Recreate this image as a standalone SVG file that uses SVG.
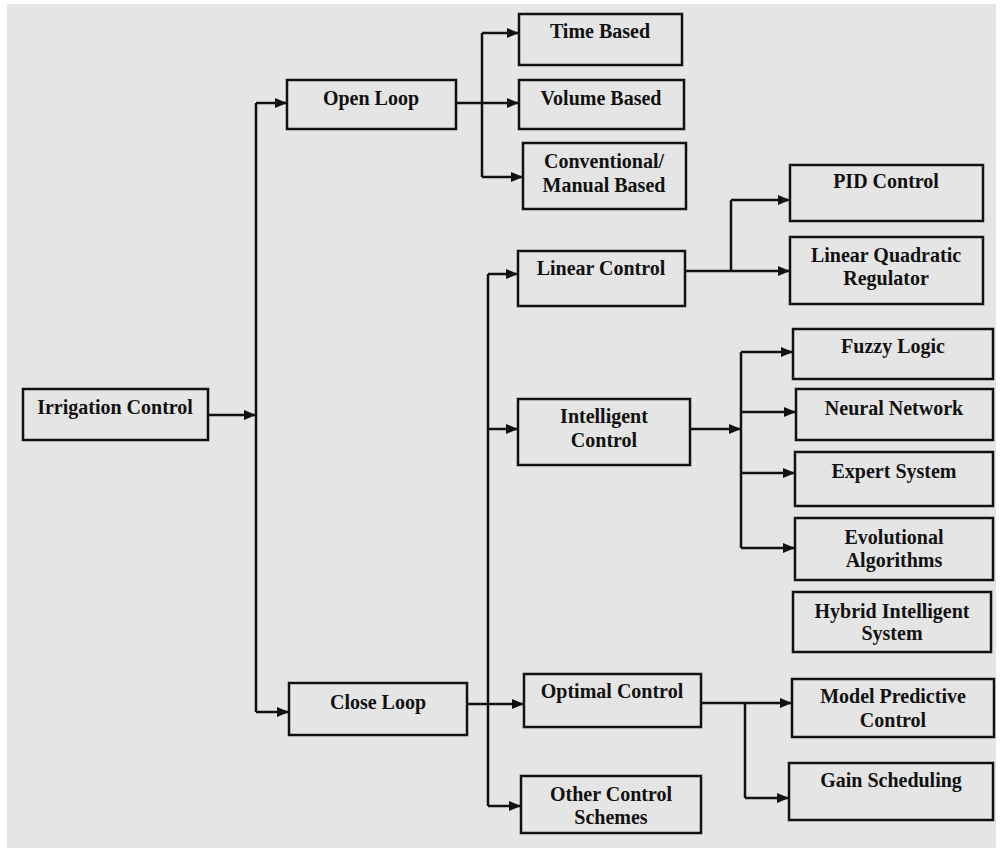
<svg xmlns="http://www.w3.org/2000/svg" width="1000" height="852" viewBox="0 0 1000 852">
  <defs>
    <marker id="arrow" markerUnits="userSpaceOnUse" markerWidth="14" markerHeight="14" viewBox="0 0 14 14" refX="12" refY="7" orient="auto">
      <path d="M0,2 L12,7 L0,12 Z" fill="#111"/>
    </marker>
  </defs>
  <style>
    .box { fill: #e5e5e5; stroke: #111; stroke-width: 2.5; }
    .lbl { font-family: "Liberation Serif", "Times New Roman", serif; font-weight: bold; font-size: 20px; fill: #111; text-anchor: middle; }
    .wire { fill: none; stroke: #111; stroke-width: 2.5; }
    .arr { fill: none; stroke: #111; stroke-width: 2.5; marker-end: url(#arrow); }
  </style>

  <rect x="0" y="0" width="1000" height="852" fill="#ffffff"/>
  <rect x="7" y="4" width="989" height="844" fill="#e5e5e5"/>

  <!-- connectors -->
  <g id="connectors">
    <!-- root to both loop types -->
    <path class="arr" d="M208,415 H256"/>
    <path class="wire" d="M256,103 V712"/>
    <path class="arr" d="M256,103 H287"/>
    <path class="arr" d="M256,712 H289"/>

    <!-- open loop branches -->
    <path class="arr" d="M456,103 H519"/>
    <path class="wire" d="M482,33 V177"/>
    <path class="arr" d="M482,33 H519"/>
    <path class="arr" d="M482,177 H523"/>

    <!-- close loop branches -->
    <path class="arr" d="M467,704 H524"/>
    <path class="wire" d="M488,274 V806"/>
    <path class="arr" d="M488,274 H518"/>
    <path class="arr" d="M488,429 H518"/>
    <path class="arr" d="M488,806 H521"/>

    <!-- linear control branches -->
    <path class="arr" d="M685,271 H790"/>
    <path class="wire" d="M731,200 V271"/>
    <path class="arr" d="M731,200 H790"/>

    <!-- intelligent control branches -->
    <path class="arr" d="M690,429 H741"/>
    <path class="wire" d="M741,352 V548"/>
    <path class="arr" d="M741,352 H793"/>
    <path class="arr" d="M741,412 H796"/>
    <path class="arr" d="M741,473 H795"/>
    <path class="arr" d="M741,548 H795"/>

    <!-- optimal control branches -->
    <path class="arr" d="M701,703 H792"/>
    <path class="wire" d="M745,703 V798"/>
    <path class="arr" d="M745,798 H789"/>
  </g>

  <g id="irrigation-control">
    <rect class="box" x="23" y="389" width="185" height="51"/>
    <text class="lbl" x="115" y="414">Irrigation Control</text>
  </g>

  <g id="open-loop">
    <rect class="box" x="287" y="80" width="169" height="49"/>
    <text class="lbl" x="371" y="105">Open Loop</text>
  </g>

  <g id="close-loop">
    <rect class="box" x="289" y="683" width="178" height="52"/>
    <text class="lbl" x="378" y="709">Close Loop</text>
  </g>

  <g id="time-based">
    <rect class="box" x="519" y="14" width="163" height="51"/>
    <text class="lbl" x="600" y="38">Time Based</text>
  </g>

  <g id="volume-based">
    <rect class="box" x="519" y="80" width="165" height="49"/>
    <text class="lbl" x="601" y="105">Volume Based</text>
  </g>

  <g id="conventional-based">
    <rect class="box" x="523" y="143" width="163" height="66"/>
    <text class="lbl" x="604" y="168">Conventional/</text>
    <text class="lbl" x="604" y="192">Manual Based</text>
  </g>

  <g id="linear-control">
    <rect class="box" x="518" y="251" width="167" height="55"/>
    <text class="lbl" x="601" y="275">Linear Control</text>
  </g>

  <g id="intelligent-control">
    <rect class="box" x="518" y="399" width="172" height="66"/>
    <text class="lbl" x="604" y="423">Intelligent</text>
    <text class="lbl" x="604" y="447">Control</text>
  </g>

  <g id="optimal-control">
    <rect class="box" x="524" y="674" width="177" height="53"/>
    <text class="lbl" x="612" y="698">Optimal Control</text>
  </g>

  <g id="other-control">
    <rect class="box" x="521" y="776" width="180" height="57"/>
    <text class="lbl" x="611" y="801">Other Control</text>
    <text class="lbl" x="611" y="824">Schemes</text>
  </g>

  <g id="pid-control">
    <rect class="box" x="790" y="165" width="193" height="56"/>
    <text class="lbl" x="886" y="188">PID Control</text>
  </g>

  <g id="lqr">
    <rect class="box" x="790" y="237" width="193" height="67"/>
    <text class="lbl" x="886" y="262">Linear Quadratic</text>
    <text class="lbl" x="886" y="285">Regulator</text>
  </g>

  <g id="fuzzy-logic">
    <rect class="box" x="793" y="329" width="200" height="50"/>
    <text class="lbl" x="893" y="353">Fuzzy Logic</text>
  </g>

  <g id="neural-network">
    <rect class="box" x="796" y="389" width="197" height="51"/>
    <text class="lbl" x="894" y="415">Neural Network</text>
  </g>

  <g id="expert-system">
    <rect class="box" x="795" y="452" width="198" height="54"/>
    <text class="lbl" x="894" y="478">Expert System</text>
  </g>

  <g id="evolutional-algorithms">
    <rect class="box" x="795" y="518" width="198" height="62"/>
    <text class="lbl" x="894" y="544">Evolutional</text>
    <text class="lbl" x="894" y="567">Algorithms</text>
  </g>

  <g id="hybrid-intelligent">
    <rect class="box" x="793" y="592" width="198" height="60"/>
    <text class="lbl" x="892" y="618">Hybrid Intelligent</text>
    <text class="lbl" x="892" y="640">System</text>
  </g>

  <g id="model-predictive">
    <rect class="box" x="792" y="679" width="202" height="58"/>
    <text class="lbl" x="893" y="703">Model Predictive</text>
    <text class="lbl" x="893" y="727">Control</text>
  </g>

  <g id="gain-scheduling">
    <rect class="box" x="789" y="763" width="204" height="57"/>
    <text class="lbl" x="891" y="787">Gain Scheduling</text>
  </g>
</svg>
